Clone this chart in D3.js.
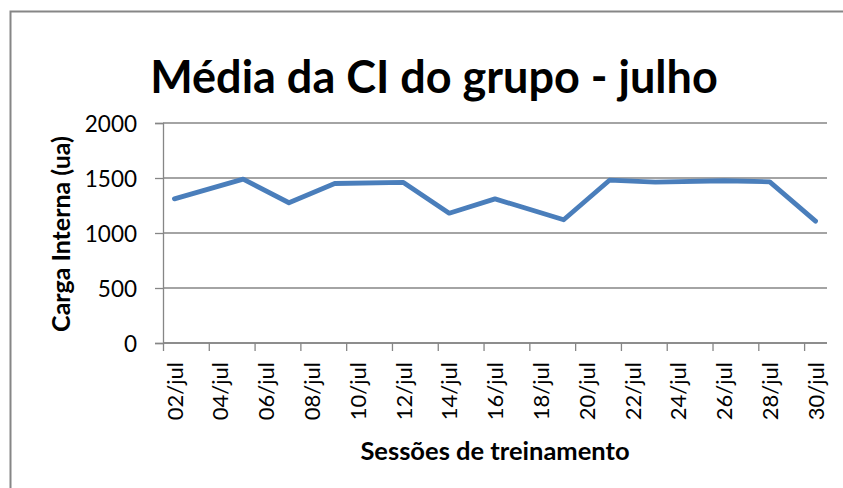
<!DOCTYPE html>
<html>
<head>
<meta charset="utf-8">
<script src="https://cdn.jsdelivr.net/npm/d3@7"></script>
<style>
  body { margin: 0; background: #fff; overflow: hidden; }
  svg { display: block; }
  text { font-family: Lato, "Open Sans", sans-serif; fill: #000; }
</style>
</head>
<body>
<div id="chart"></div>
<script>
// sessions (day of July) and mean internal load
const sessionDays = [2, 5, 7, 9, 12, 14, 16, 19, 21, 23, 26, 28, 30];
const cargaValues = [1310, 1490, 1275, 1450, 1460, 1180, 1310, 1120, 1480, 1462, 1475, 1465, 1108];
const yTicks = [0, 500, 1000, 1500, 2000];
const tickDays = [2, 4, 6, 8, 10, 12, 14, 16, 18, 20, 22, 24, 26, 28, 30];
const tickLabels = ["02/jul", "04/jul", "06/jul", "08/jul", "10/jul", "12/jul", "14/jul", "16/jul",
  "18/jul", "20/jul", "22/jul", "24/jul", "26/jul", "28/jul", "30/jul"];

const W = 843, H = 488;
const plotLeft = 163, plotRight = 827, plotTop = 123, plotBottom = 343;
const gray = "#868686";

const svg = d3.select("#chart").append("svg")
  .attr("width", W).attr("height", H);

// outer chart border (right and bottom edges fall outside the picture)
svg.append("path")
  .attr("d", "M10.5," + H + "V11.5H" + W)
  .attr("fill", "none").attr("stroke", gray).attr("stroke-width", 2);

const day = d => new Date(2013, 6, d);
const halfDay = 12 * 3600 * 1000;

const x = d3.scaleTime()
  .domain([day(2), day(31)])
  .range([plotLeft, plotRight]);

const y = d3.scaleLinear()
  .domain([0, 2000])
  .range([plotBottom, plotTop]);

// horizontal gridlines
svg.append("g")
  .selectAll("line")
  .data(yTicks)
  .enter()
  .append("line")
  .attr("x1", plotLeft).attr("x2", plotRight)
  .attr("y1", d => y(d)).attr("y2", d => y(d))
  .attr("stroke", gray).attr("stroke-width", 1.3);

// y axis
const yAxis = svg.append("g")
  .attr("transform", "translate(" + plotLeft + ",0)")
  .call(d3.axisLeft(y).tickValues(yTicks).tickSize(8).tickPadding(18).tickFormat(d3.format("d")));
yAxis.selectAll("line, path").attr("stroke", gray).attr("stroke-width", 1.3);
yAxis.selectAll("text").style("font-size", "22.5px").attr("dy", "0.36em");

// x axis (ticks at day boundaries, labels centred on the day)
const tickDates = tickDays.map(day);
const xAxis = svg.append("g")
  .attr("transform", "translate(0," + plotBottom + ")")
  .call(d3.axisBottom(x).tickValues(tickDates).tickSize(8)
    .tickFormat((d, i) => tickLabels[i]));
xAxis.select("path").attr("d", "M" + plotLeft + ",0H" + plotRight);
xAxis.selectAll("line, path").attr("stroke", gray).attr("stroke-width", 1.3);
xAxis.selectAll("text")
  .style("font-size", "22px")
  .style("text-anchor", "end")
  .attr("transform", "translate(" + (x(day(3)) - x(day(2))) / 2 + ",0) rotate(-90)")
  .attr("x", -19).attr("y", 0).attr("dy", "0.35em");

// data line
const line = d3.line()
  .x((d, i) => x(new Date(+day(sessionDays[i]) + halfDay)))
  .y(d => y(d));

svg.append("path")
  .datum(cargaValues)
  .attr("d", line)
  .attr("fill", "none")
  .attr("stroke", "#4a7ebb")
  .attr("stroke-width", 4.8)
  .attr("stroke-linejoin", "round")
  .attr("stroke-linecap", "round");

// titles
svg.append("text")
  .attr("x", 434).attr("y", 93)
  .attr("text-anchor", "middle")
  .style("font-size", "45px").style("font-weight", "bold")
  .text("Média da CI do grupo - julho");

svg.append("text")
  .attr("x", 495).attr("y", 460)
  .attr("text-anchor", "middle")
  .style("font-size", "25.5px").style("font-weight", "bold")
  .text("Sessões de treinamento");

svg.append("text")
  .attr("transform", "translate(70,234) rotate(-90)")
  .attr("text-anchor", "middle")
  .style("font-size", "25px").style("font-weight", "bold")
  .text("Carga Interna (ua)");
</script>
</body>
</html>
